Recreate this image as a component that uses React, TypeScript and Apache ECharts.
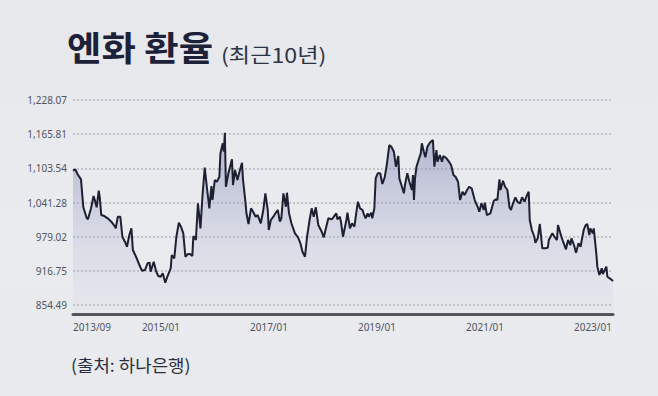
import React, { useEffect, useRef } from "react";
import * as echarts from "echarts";

const titleText = "엔화 환율";
const subtitleText = "(최근10년)";
const sourceText = "(출처: 하나은행)";

const yTickValues = [854.49, 916.75, 979.02, 1041.28, 1103.54, 1165.81, 1228.07];
const xTickDates = ["2013-09-22", "2015-01-01", "2017-01-01", "2019-01-01", "2021-01-01", "2023-01-01"];
const xMin = "2013-09-22";
const xMax = "2023-09-22";
const yMin = 838.1;
const yMax = 1228.07;

const dates = [
  "2013-09-22","2013-10-08","2013-10-22","2013-11-15","2013-12-01","2013-12-22","2014-01-01","2014-01-22","2014-02-08","2014-02-15",
  "2014-03-01","2014-03-15","2014-03-22","2014-04-01","2014-04-22","2014-05-15","2014-06-08","2014-07-01","2014-07-08","2014-07-22",
  "2014-08-08","2014-08-22","2014-09-08","2014-09-22","2014-10-08","2014-10-22","2014-11-01","2014-11-22","2014-12-15","2015-01-01",
  "2015-01-22","2015-02-08","2015-02-22","2015-03-01","2015-03-22","2015-04-08","2015-04-22","2015-05-08","2015-05-22","2015-06-08",
  "2015-06-22","2015-07-15","2015-07-22","2015-08-08","2015-08-22","2015-09-08","2015-09-22","2015-10-08","2015-10-22","2015-11-08",
  "2015-11-22","2015-12-08","2015-12-15","2016-01-01","2016-01-15","2016-02-01","2016-02-15","2016-03-01","2016-03-15","2016-04-01",
  "2016-04-15","2016-04-22","2016-05-08","2016-05-22","2016-06-08","2016-06-15","2016-07-01","2016-07-08","2016-07-15","2016-07-22",
  "2016-08-08","2016-09-01","2016-09-08","2016-09-22","2016-10-08","2016-10-22","2016-11-08","2016-11-15","2016-12-01","2016-12-08",
  "2016-12-22","2017-01-08","2017-01-22","2017-02-08","2017-02-22","2017-03-15","2017-04-01","2017-04-15","2017-05-01","2017-05-08",
  "2017-05-22","2017-06-08","2017-06-22","2017-07-08","2017-07-22","2017-08-01","2017-08-15","2017-09-01","2017-09-08","2017-09-22",
  "2017-10-08","2017-11-01","2017-11-22","2017-12-08","2017-12-22","2018-01-08","2018-01-22","2018-02-08","2018-02-22","2018-03-08",
  "2018-03-22","2018-04-08","2018-05-01","2018-05-15","2018-06-01","2018-06-15","2018-07-08","2018-07-22","2018-08-08","2018-08-15",
  "2018-09-01","2018-09-08","2018-09-22","2018-10-15","2018-10-22","2018-11-08","2018-11-22","2018-12-08","2018-12-22","2019-01-01",
  "2019-01-15","2019-02-01","2019-02-08","2019-02-22","2019-03-08","2019-03-15","2019-04-01","2019-04-08","2019-04-22","2019-05-01",
  "2019-05-15","2019-06-01","2019-06-15","2019-07-01","2019-07-15","2019-08-01","2019-08-15","2019-09-01","2019-09-15","2019-10-01",
  "2019-10-08","2019-10-22","2019-11-08","2019-11-15","2019-12-01","2019-12-15","2020-01-01","2020-01-08","2020-01-15","2020-01-22",
  "2020-02-01","2020-02-15","2020-03-01","2020-03-08","2020-03-22","2020-04-01","2020-04-15","2020-05-01","2020-05-22","2020-06-01",
  "2020-06-15","2020-06-22","2020-07-08","2020-07-22","2020-08-01","2020-08-22","2020-09-08","2020-09-22","2020-10-08","2020-10-22",
  "2020-11-08","2020-11-22","2020-12-08","2020-12-22","2021-01-08","2021-01-22","2021-02-08","2021-03-01","2021-03-22","2021-04-01",
  "2021-04-15","2021-05-01","2021-05-08","2021-05-22","2021-06-15","2021-07-08","2021-07-22","2021-08-01","2021-08-15","2021-08-22",
  "2021-09-08","2021-09-22","2021-10-08","2021-10-22","2021-11-01","2021-11-15","2021-12-01","2021-12-15","2022-01-01","2022-01-15",
  "2022-02-01","2022-02-15","2022-03-01","2022-03-08","2022-03-22","2022-04-08","2022-04-15","2022-05-01","2022-05-15","2022-06-01",
  "2022-06-22","2022-07-08","2022-07-15","2022-08-08","2022-08-22","2022-09-08","2022-09-15","2022-10-08","2022-10-22","2022-11-08",
  "2022-11-22","2022-12-08","2022-12-15","2023-01-01","2023-01-15","2023-02-01","2023-02-15","2023-02-22","2023-03-08","2023-03-22",
  "2023-04-01","2023-04-15","2023-04-22","2023-05-08","2023-05-15","2023-06-01","2023-06-08","2023-06-22","2023-07-08","2023-07-15",
  "2023-08-08","2023-08-15","2023-09-08","2023-09-22"
];

const rates = [
  1099.2,1101.7,1093.2,1083.5,1032.5,1014.3,1010.6,1030.7,1053.1,1047.1,
  1032.5,1062.8,1050.7,1018.5,1016.6,1012.5,1006.3,998.4,994.2,1015.4,
  1015.4,978.9,969.8,960.7,982.0,994.2,954.7,942.5,927.4,917.0,
  918.3,930.5,931.6,915.2,933.4,915.2,907.3,906.1,912.2,895.1,
  906.1,921.4,945.6,939.6,978.9,1004.5,997.2,985.1,942.5,947.4,
  947.4,943.8,980.2,972.9,1039.8,994.2,1054.9,1105.0,1070.0,1030.7,
  1071.3,1045.8,1082.3,1079.2,1088.3,1130.9,1149.1,1133.8,1168.4,1070.0,
  1094.5,1120.0,1073.1,1100.5,1082.3,1097.4,1113.8,1082.3,1042.7,1021.6,
  1002.1,1030.7,1024.5,1015.4,1018.5,1003.4,1027.6,1058.0,1027.6,991.2,
  1009.4,1015.4,1021.6,1027.6,1006.3,1012.5,1058.0,1033.6,1059.1,1021.6,
  1003.4,985.1,977.9,966.9,951.6,942.5,978.9,1009.4,1030.7,1015.4,
  1032.5,1000.3,988.1,977.9,997.2,1012.5,1010.6,1015.4,1021.6,1010.6,
  1015.4,1006.3,978.9,1009.4,1022.7,994.2,1003.4,997.2,1024.5,1042.7,
  1030.7,1027.6,1021.6,1012.5,1021.6,1015.4,1022.7,1012.5,1030.7,1085.3,
  1094.5,1094.5,1075.0,1087.2,1109.6,1146.0,1142.9,1133.8,1106.5,1126.0,
  1085.3,1073.1,1058.0,1073.1,1094.5,1079.2,1064.0,1091.4,1045.8,1085.3,
  1106.5,1118.7,1130.9,1149.1,1133.8,1123.6,1142.9,1150.2,1155.1,1106.5,
  1136.9,1115.6,1127.8,1115.6,1126.0,1121.8,1115.6,1109.6,1091.4,1088.3,
  1079.2,1045.8,1060.9,1054.9,1064.0,1070.0,1067.1,1045.8,1032.5,1024.5,
  1039.8,1027.6,1040.9,1018.5,1021.6,1044.5,1047.1,1045.8,1083.5,1064.0,
  1081.0,1070.0,1064.0,1032.5,1027.6,1039.8,1050.7,1042.7,1039.8,1050.7,
  1042.7,1053.1,1060.9,1009.4,991.2,978.9,968.0,976.0,1002.1,957.8,
  957.8,958.9,972.9,985.1,978.9,972.9,1000.3,978.9,968.0,956.0,
  972.9,963.8,976.0,963.8,949.8,966.9,960.7,971.6,991.2,1000.3,
  1002.1,982.0,994.2,985.1,994.2,948.7,924.3,909.2,921.4,911.0,
  924.3,906.1,901.3,898.2
];

const ts = (s: string) => {
  const [y, m, d] = s.split("-").map(Number);
  return new Date(y, m - 1, d).getTime();
};

const fmtMonth = (v: number) => {
  const d = new Date(v);
  return `${d.getFullYear()}/${String(d.getMonth() + 1).padStart(2, "0")}`;
};

const fmtNum = (v: number) =>
  v.toLocaleString("en-US", { minimumFractionDigits: 2, maximumFractionDigits: 2 });

export default function App() {
  const ref = useRef<HTMLDivElement>(null);

  useEffect(() => {
    if (!ref.current) return;
    const chart = echarts.init(ref.current, null, { renderer: "svg" });
    const seriesData = dates.map((d, i) => [ts(d), rates[i]]);
    const xTicks = xTickDates.map(ts);

    chart.setOption({
      animation: false,
      backgroundColor: "transparent",
      grid: { left: 73, right: 45, top: 100, bottom: 82, containLabel: false },
      graphic: [
        {
          type: "text",
          x: 67,
          y: 29,
          scaleX: 1.1,
          style: {
            text: titleText,
            font: 'bold 34px "Noto Sans CJK KR"',
            fill: "#1d2238",
          },
        },
        {
          type: "text",
          x: 221,
          y: 44,
          scaleX: 1.16,
          style: {
            text: subtitleText,
            font: '20px "Noto Sans CJK KR"',
            fill: "#2e3344",
          },
        },
        {
          type: "text",
          x: 71,
          y: 356,
          scaleX: 1.05,
          style: {
            text: sourceText,
            font: '17px "Noto Sans CJK KR"',
            fill: "#2a2e3c",
          },
        },
      ],
      xAxis: {
        type: "value",
        min: ts(xMin),
        max: ts(xMax),
        axisLine: { show: true, onZero: false, lineStyle: { color: "#50535d", width: 3 } },
        axisTick: { show: false, customValues: xTicks },
        splitLine: { show: false },
        axisLabel: {
          customValues: xTicks,
          formatter: (v: number) => fmtMonth(v),
          align: "left",
          margin: 8,
          color: "#50545f",
          fontSize: 10,
          fontFamily: "Noto Sans",
        },
      },
      yAxis: {
        type: "value",
        min: yMin,
        max: yMax,
        axisLine: { show: false },
        axisTick: { show: false, customValues: yTickValues },
        axisLabel: {
          customValues: yTickValues,
          formatter: (v: number) => fmtNum(v),
          margin: 6,
          color: "#50545f",
          fontSize: 10,
          fontFamily: "Noto Sans",
        },
        splitLine: {
          show: true,
          lineStyle: { color: "#b4b6be", type: [2, 2], width: 1.5 },
        },
      },
      series: [
        {
          type: "line",
          data: seriesData,
          showSymbol: false,
          lineStyle: { color: "#1c2030", width: 2 },
          itemStyle: { color: "#1c2030" },
          areaStyle: {
            color: new echarts.graphic.LinearGradient(0, 0, 0, 1, [
              { offset: 0, color: "rgba(112,120,172,0.68)" },
              { offset: 1, color: "rgba(196,199,220,0.12)" },
            ]),
          },
        },
      ],
    });

    return () => chart.dispose();
  }, []);

  return (
    <div
      style={{
        position: "fixed",
        left: 0,
        top: 0,
        width: 658,
        height: 396,
        background: "linear-gradient(180deg, #e7e8ec 0%, #eaebef 60%, #e9eaee 100%)",
      }}
    >
      <div ref={ref} style={{ width: 658, height: 396 }} />
    </div>
  );
}
